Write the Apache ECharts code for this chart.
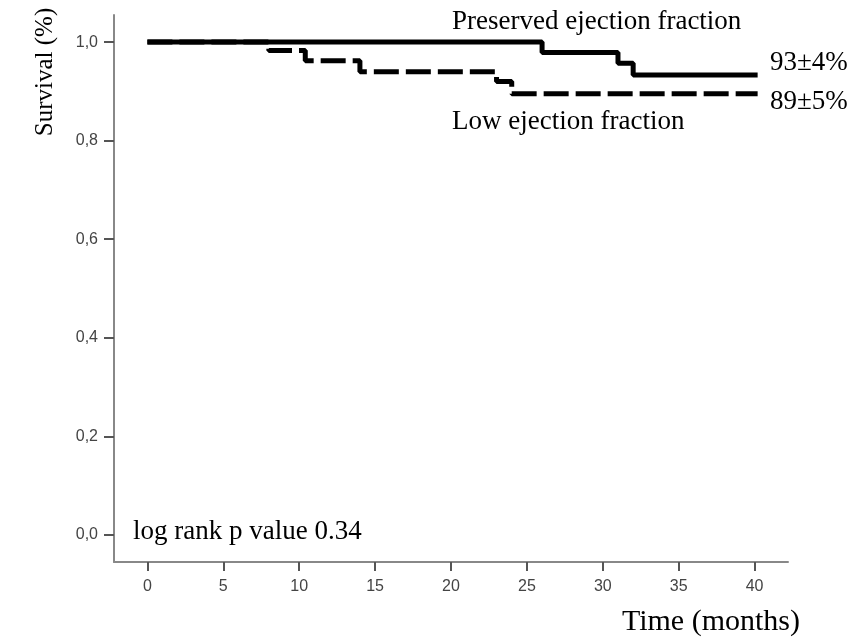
<!DOCTYPE html>
<html>
<head>
<meta charset="utf-8">
<title>Survival</title>
<script src="https://cdn.jsdelivr.net/npm/echarts@6/dist/echarts.min.js"></script>
<style>
  html, body { margin: 0; padding: 0; background: #fff; }
  #chart { width: 862px; height: 644px; }
</style>
</head>
<body>
<div id="chart"></div>
<script>
// Kaplan-Meier steps, [month, survival]
const preservedSteps = [[0, 1.0], [26, 0.979], [31, 0.957], [32, 0.933], [40.2, 0.933]]
const lowSteps = [[0, 1.0], [8, 0.983], [10.4, 0.962], [14, 0.94], [23, 0.92], [24, 0.895], [40.2, 0.895]]
const xTicks = [0, 5, 10, 15, 20, 25, 30, 35, 40]
const yTicks = [0, 0.2, 0.4, 0.6, 0.8, 1.0]

const serif = '"Liberation Serif", "Times New Roman", serif'
const sans = '"Liberation Sans", Arial, sans-serif'

const chart = echarts.init(document.getElementById('chart'))

function label(text, x, y, size, align) {
  return {
    type: 'text',
    x: x,
    y: y,
    style: {
      text: text,
      font: size + 'px ' + serif,
      fill: '#000',
      textAlign: align || 'left',
      textVerticalAlign: 'middle'
    }
  }
}

chart.setOption({
  animation: false,
  backgroundColor: '#fff',
  grid: {
    left: 114,
    top: 15,
    right: 74,
    bottom: 82,
    containLabel: false,
    outerBoundsMode: 'none'
  },
  xAxis: {
    type: 'value',
    min: -2.2,
    max: 42.2,
    axisLine: { onZero: false, lineStyle: { color: '#888', width: 2 } },
    axisTick: {
      customValues: xTicks,
      length: 9,
      lineStyle: { color: '#555', width: 2 }
    },
    axisLabel: {
      customValues: xTicks,
      margin: 17,
      color: '#444',
      fontFamily: sans,
      fontSize: 16
    },
    splitLine: { show: false }
  },
  yAxis: {
    type: 'value',
    min: -0.055,
    max: 1.055,
    axisLine: { show: true, onZero: false, lineStyle: { color: '#888', width: 2 } },
    axisTick: {
      show: true,
      customValues: yTicks,
      length: 10,
      lineStyle: { color: '#555', width: 2 }
    },
    axisLabel: {
      customValues: yTicks,
      margin: 16,
      color: '#444',
      fontFamily: sans,
      fontSize: 16,
      formatter: v => v.toFixed(1).replace('.', ',')
    },
    splitLine: { show: false }
  },
  series: [
    {
      name: 'Low ejection fraction',
      type: 'line',
      step: 'end',
      showSymbol: false,
      data: lowSteps,
      lineStyle: { color: '#000', width: 5, type: [25, 7] }
    },
    {
      name: 'Preserved ejection fraction',
      type: 'line',
      step: 'end',
      showSymbol: false,
      data: preservedSteps,
      lineStyle: { color: '#000', width: 5 }
    }
  ],
  graphic: [
    label('Preserved ejection fraction', 452, 22, 27),
    label('Low ejection fraction', 452, 122, 27),
    label('93±4%', 770, 63, 27),
    label('89±5%', 770, 102, 27),
    label('log rank p value 0.34', 133, 532, 27),
    label('Time (months)', 800, 622, 30, 'right'),
    {
      type: 'text',
      x: 45,
      y: 72,
      rotation: Math.PI / 2,
      style: {
        text: 'Survival (%)',
        font: '25px ' + serif,
        fill: '#000',
        textAlign: 'center',
        textVerticalAlign: 'middle'
      }
    }
  ]
})
</script>
</body>
</html>
